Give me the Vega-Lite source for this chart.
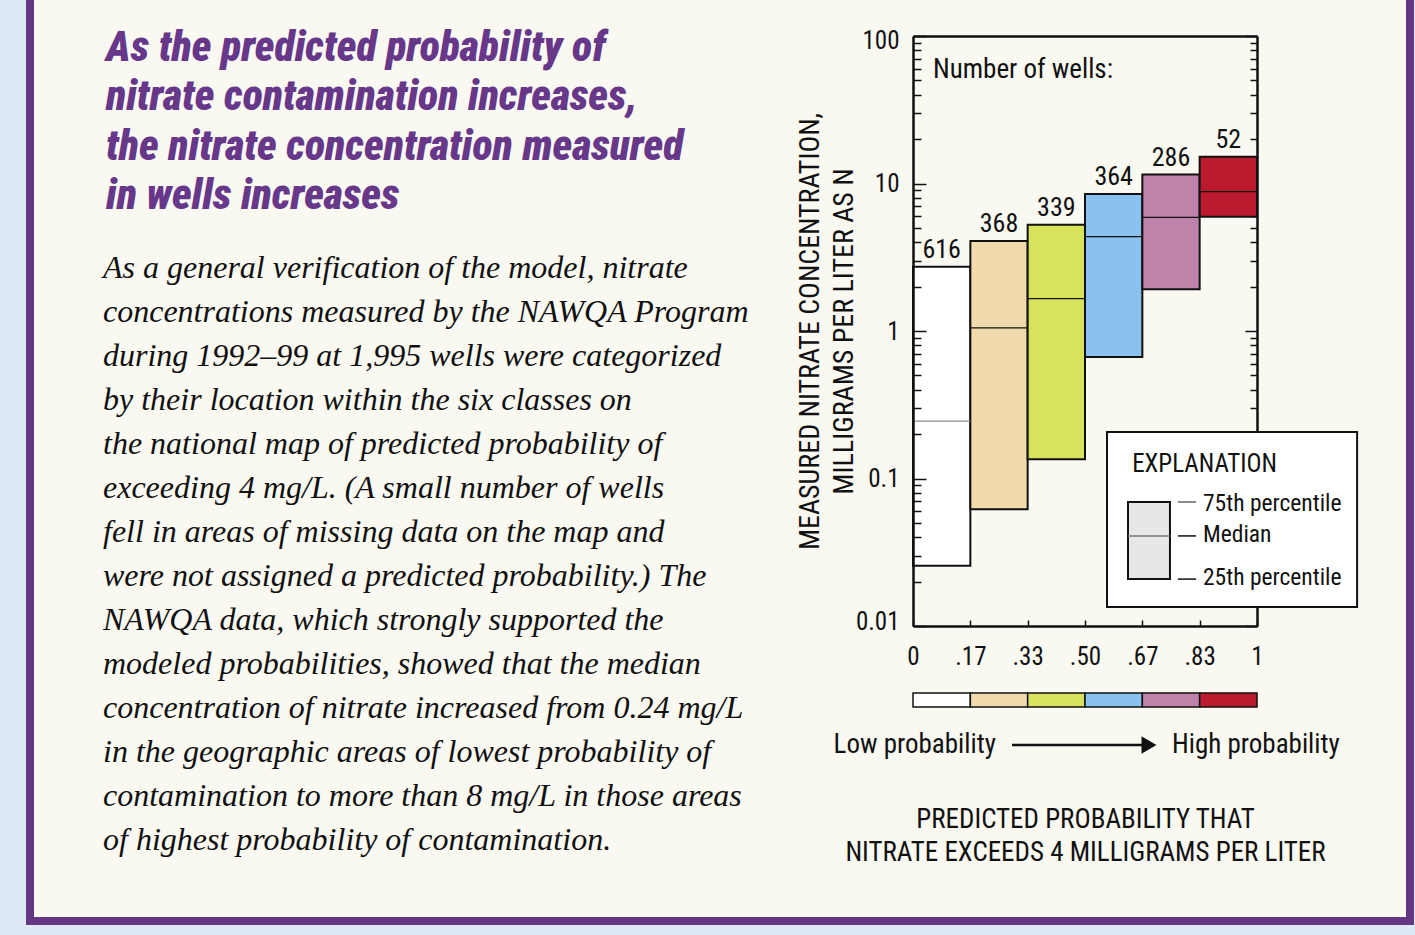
{
  "$schema": "https://vega.github.io/schema/vega-lite/v6.json",
  "autosize": {"type": "none"},
  "padding": {"left": 30, "top": -10, "right": 5, "bottom": 14},
  "width": 1380,
  "height": 931,
  "background": "#dfe8f7",
  "config": {
    "view": {"fill": "#f9f8f1", "stroke": "#673683", "strokeWidth": 8},
    "font": "Liberation Sans Narrow, Roboto Condensed, DejaVu Sans Condensed, sans-serif",
    "text": {"font": "Liberation Sans Narrow, Roboto Condensed, DejaVu Sans Condensed, sans-serif", "fontSize": 25, "color": "#111111"}
  },
  "datasets": {
    "classes": [
      {"cls": 1, "p0": 0, "p1": 0.1667, "pmid": 0.0833, "n": 616, "q25": 0.0256, "med": 0.245, "q75": 2.73},
      {"cls": 2, "p0": 0.1667, "p1": 0.3333, "pmid": 0.25, "n": 368, "q25": 0.0618, "med": 1.05, "q75": 4.08},
      {"cls": 3, "p0": 0.3333, "p1": 0.5, "pmid": 0.4167, "n": 339, "q25": 0.135, "med": 1.66, "q75": 5.26},
      {"cls": 4, "p0": 0.5, "p1": 0.6667, "pmid": 0.5833, "n": 364, "q25": 0.667, "med": 4.36, "q75": 8.49},
      {"cls": 5, "p0": 0.6667, "p1": 0.8333, "pmid": 0.75, "n": 286, "q25": 1.92, "med": 5.9, "q75": 11.5},
      {"cls": 6, "p0": 0.8333, "p1": 1, "pmid": 0.9167, "n": 52, "q25": 5.96, "med": 8.8, "q75": 15.2}
    ],
    "one": [{}],
    "heading": [
      {"line": 1, "text": "As the predicted probability of"},
      {"line": 2, "text": "nitrate contamination increases,"},
      {"line": 3, "text": "the nitrate concentration measured"},
      {"line": 4, "text": "in wells increases"}
    ],
    "body": [
      {"line": 1, "text": "As a general verification of the model, nitrate"},
      {"line": 2, "text": "concentrations measured by the NAWQA Program"},
      {"line": 3, "text": "during 1992–99 at 1,995 wells were categorized"},
      {"line": 4, "text": "by their location within the six classes on"},
      {"line": 5, "text": "the national map of predicted probability of"},
      {"line": 6, "text": "exceeding 4 mg/L. (A small number of wells"},
      {"line": 7, "text": "fell in areas of missing data on the map and"},
      {"line": 8, "text": "were not assigned a predicted probability.) The"},
      {"line": 9, "text": "NAWQA data, which strongly supported the"},
      {"line": 10, "text": "modeled probabilities, showed that the median"},
      {"line": 11, "text": "concentration of nitrate increased from 0.24 mg/L"},
      {"line": 12, "text": "in the geographic areas of lowest probability of"},
      {"line": 13, "text": "contamination to more than 8 mg/L in those areas"},
      {"line": 14, "text": "of highest probability of contamination."}
    ]
  },
  "resolve": {"scale": {"x": "independent", "y": "independent"}, "axis": {"x": "independent", "y": "independent"}},
  "layer": [
    {
      "data": {"name": "classes"},
      "mark": {"type": "rect", "stroke": "#111111", "strokeWidth": 2},
      "encoding": {
        "x": {"field": "p0", "type": "quantitative",
          "scale": {"domain": [0, 1], "range": [883, 1227], "nice": false, "zero": false},
          "axis": {"orient": "bottom", "offset": -295, "values": [0, 0.1667, 0.3333, 0.5, 0.6667, 0.8333, 1],
            "labelExpr": "datum.value == 0 ? '0' : datum.value == 1 ? '1' : replace(format(datum.value, '.2f'), '0.', '.')",
            "tickSize": -6, "tickWidth": 1.5, "tickColor": "#111111", "domainColor": "#111111", "domainWidth": 2.5,
            "labelFontSize": 25, "labelColor": "#111111", "labelPadding": 24, "labelFlush": false, "labelOverlap": false,
            "grid": false, "zindex": 1,
            "title": ["PREDICTED PROBABILITY THAT", "NITRATE EXCEEDS 4 MILLIGRAMS PER LITER"],
            "titleFontSize": 27, "titleFontWeight": "normal", "titleColor": "#111111", "titlePadding": 137, "titleLineHeight": 33}},
        "x2": {"field": "p1"},
        "y": {"field": "q25", "type": "quantitative",
          "scale": {"type": "log", "domain": [0.01, 100], "range": [636, 46], "nice": false},
          "axis": {"orient": "left", "offset": -883,
            "values": [0.01, 0.02, 0.03, 0.04, 0.05, 0.06, 0.07, 0.08, 0.09, 0.1, 0.2, 0.3, 0.4, 0.5, 0.6, 0.7, 0.8, 0.9, 1, 2, 3, 4, 5, 6, 7, 8, 9, 10, 20, 30, 40, 50, 60, 70, 80, 90, 100],
            "labelExpr": "abs(log(datum.value)/LN10 - round(log(datum.value)/LN10)) < 0.001 ? format(datum.value, '~g') : ''",
            "tickSize": {"condition": {"test": "abs(log(datum.value)/LN10 - round(log(datum.value)/LN10)) < 0.001", "value": -13}, "value": -8},
            "tickWidth": 1.5, "tickColor": "#111111", "domainColor": "#111111", "domainWidth": 2.5,
            "labelFontSize": 25, "labelColor": "#111111", "labelPadding": 27, "labelFlush": true, "labelFlushOffset": 8, "labelOverlap": false,
            "grid": false, "zindex": 1,
            "title": ["MEASURED NITRATE CONCENTRATION,", "MILLIGRAMS PER LITER AS N"],
            "titleFontSize": 28, "titleFontWeight": "normal", "titleColor": "#111111", "titlePadding": -3, "titleLineHeight": 34}},
        "y2": {"field": "q75"},
        "color": {"field": "cls", "type": "nominal", "legend": null,
          "scale": {"domain": [1, 2, 3, 4, 5, 6], "range": ["#ffffff", "#f1dbad", "#d7e35a", "#8bc1ee", "#bf82ab", "#bc1b2f"]}}
      }
    },
    {
      "data": {"name": "classes"},
      "mark": {"type": "rule", "strokeWidth": 1.3},
      "encoding": {
        "x": {"field": "p0", "type": "quantitative",
          "scale": {"domain": [0, 1], "range": [883, 1227], "nice": false, "zero": false},
          "axis": {"orient": "top", "offset": -46, "ticks": false, "labels": false, "domainColor": "#111111", "domainWidth": 2.5, "grid": false, "title": null, "zindex": 0}},
        "x2": {"field": "p1"},
        "y": {"field": "med", "type": "quantitative",
          "scale": {"type": "log", "domain": [0.01, 100], "range": [636, 46], "nice": false},
          "axis": {"orient": "right", "offset": -153,
            "values": [0.01, 0.02, 0.03, 0.04, 0.05, 0.06, 0.07, 0.08, 0.09, 0.1, 0.2, 0.3, 0.4, 0.5, 0.6, 0.7, 0.8, 0.9, 1, 2, 3, 4, 5, 6, 7, 8, 9, 10, 20, 30, 40, 50, 60, 70, 80, 90, 100],
            "labels": false,
            "tickSize": {"condition": {"test": "abs(log(datum.value)/LN10 - round(log(datum.value)/LN10)) < 0.001", "value": -12}, "value": -7},
            "tickWidth": 1.5, "tickColor": "#111111", "domainColor": "#111111", "domainWidth": 2.5,
            "grid": false, "title": null, "zindex": 0}},
        "stroke": {"condition": {"test": "datum.cls == 1", "value": "#8a8a8a"}, "value": "#111111"}
      }
    },
    {
      "data": {"name": "classes"},
      "mark": {"type": "text", "baseline": "bottom", "dy": -4, "fontSize": 26},
      "encoding": {
        "x": {"field": "pmid", "type": "quantitative",
          "scale": {"domain": [0, 1], "range": [883, 1227], "nice": false, "zero": false}, "axis": null},
        "y": {"field": "q75", "type": "quantitative",
          "scale": {"type": "log", "domain": [0.01, 100], "range": [636, 46], "nice": false}, "axis": null},
        "text": {"field": "n", "type": "nominal"}
      }
    },
    {
      "data": {"name": "one"},
      "mark": {"type": "text", "text": "Number of wells:", "align": "left", "baseline": "middle", "fontSize": 27},
      "encoding": {
        "x": {"datum": 0.058, "type": "quantitative", "scale": {"domain": [0, 1], "range": [883, 1227], "nice": false, "zero": false}, "axis": null},
        "y": {"datum": 58.8, "type": "quantitative", "scale": {"type": "log", "domain": [0.01, 100], "range": [636, 46], "nice": false}, "axis": null}
      }
    },
    {
      "data": {"name": "one"},
      "mark": {"type": "rect", "fill": "#ffffff", "stroke": "#111111", "strokeWidth": 2},
      "encoding": {
        "x": {"datum": 0.564, "type": "quantitative", "scale": {"domain": [0, 1], "range": [883, 1227], "nice": false, "zero": false}, "axis": null},
        "x2": {"datum": 1.291},
        "y": {"datum": 0.2065, "type": "quantitative", "scale": {"type": "log", "domain": [0.01, 100], "range": [636, 46], "nice": false}, "axis": null},
        "y2": {"datum": 0.01345}
      }
    },
    {
      "data": {"name": "one"},
      "mark": {"type": "text", "text": "EXPLANATION", "align": "left", "baseline": "middle", "fontSize": 25},
      "encoding": {
        "x": {"datum": 0.637, "type": "quantitative", "scale": {"domain": [0, 1], "range": [883, 1227], "nice": false, "zero": false}, "axis": null},
        "y": {"datum": 0.1253, "type": "quantitative", "scale": {"type": "log", "domain": [0.01, 100], "range": [636, 46], "nice": false}, "axis": null}
      }
    },
    {
      "data": {"name": "one"},
      "mark": {"type": "rect", "fill": "#e7e7ea", "stroke": "#111111", "strokeWidth": 2},
      "encoding": {
        "x": {"datum": 0.625, "type": "quantitative", "scale": {"domain": [0, 1], "range": [883, 1227], "nice": false, "zero": false}, "axis": null},
        "x2": {"datum": 0.747},
        "y": {"datum": 0.0693, "type": "quantitative", "scale": {"type": "log", "domain": [0.01, 100], "range": [636, 46], "nice": false}, "axis": null},
        "y2": {"datum": 0.0208}
      }
    },
    {
      "data": {"name": "one"},
      "mark": {"type": "rule", "stroke": "#777777", "strokeWidth": 1.5},
      "encoding": {
        "x": {"datum": 0.625, "type": "quantitative", "scale": {"domain": [0, 1], "range": [883, 1227], "nice": false, "zero": false}, "axis": null},
        "x2": {"datum": 0.747},
        "y": {"datum": 0.0408, "type": "quantitative", "scale": {"type": "log", "domain": [0.01, 100], "range": [636, 46], "nice": false}, "axis": null}
      }
    },
    {
      "data": {"name": "one"},
      "mark": {"type": "rule", "stroke": "#666666", "strokeWidth": 1.5},
      "encoding": {
        "x": {"datum": 0.77, "type": "quantitative", "scale": {"domain": [0, 1], "range": [883, 1227], "nice": false, "zero": false}, "axis": null},
        "x2": {"datum": 0.823},
        "y": {"datum": 0.0693, "type": "quantitative", "scale": {"type": "log", "domain": [0.01, 100], "range": [636, 46], "nice": false}, "axis": null}
      }
    },
    {
      "data": {"name": "one"},
      "mark": {"type": "rule", "stroke": "#111111", "strokeWidth": 1.5},
      "encoding": {
        "x": {"datum": 0.77, "type": "quantitative", "scale": {"domain": [0, 1], "range": [883, 1227], "nice": false, "zero": false}, "axis": null},
        "x2": {"datum": 0.823},
        "y": {"datum": 0.0408, "type": "quantitative", "scale": {"type": "log", "domain": [0.01, 100], "range": [636, 46], "nice": false}, "axis": null}
      }
    },
    {
      "data": {"name": "one"},
      "mark": {"type": "rule", "stroke": "#111111", "strokeWidth": 1.5},
      "encoding": {
        "x": {"datum": 0.77, "type": "quantitative", "scale": {"domain": [0, 1], "range": [883, 1227], "nice": false, "zero": false}, "axis": null},
        "x2": {"datum": 0.823},
        "y": {"datum": 0.0208, "type": "quantitative", "scale": {"type": "log", "domain": [0.01, 100], "range": [636, 46], "nice": false}, "axis": null}
      }
    },
    {
      "data": {"name": "one"},
      "mark": {"type": "text", "text": "75th percentile", "align": "left", "baseline": "middle", "fontSize": 23.5},
      "encoding": {
        "x": {"datum": 0.843, "type": "quantitative", "scale": {"domain": [0, 1], "range": [883, 1227], "nice": false, "zero": false}, "axis": null},
        "y": {"datum": 0.0671, "type": "quantitative", "scale": {"type": "log", "domain": [0.01, 100], "range": [636, 46], "nice": false}, "axis": null}
      }
    },
    {
      "data": {"name": "one"},
      "mark": {"type": "text", "text": "Median", "align": "left", "baseline": "middle", "fontSize": 23.5},
      "encoding": {
        "x": {"datum": 0.843, "type": "quantitative", "scale": {"domain": [0, 1], "range": [883, 1227], "nice": false, "zero": false}, "axis": null},
        "y": {"datum": 0.0414, "type": "quantitative", "scale": {"type": "log", "domain": [0.01, 100], "range": [636, 46], "nice": false}, "axis": null}
      }
    },
    {
      "data": {"name": "one"},
      "mark": {"type": "text", "text": "25th percentile", "align": "left", "baseline": "middle", "fontSize": 23.5},
      "encoding": {
        "x": {"datum": 0.843, "type": "quantitative", "scale": {"domain": [0, 1], "range": [883, 1227], "nice": false, "zero": false}, "axis": null},
        "y": {"datum": 0.0211, "type": "quantitative", "scale": {"type": "log", "domain": [0.01, 100], "range": [636, 46], "nice": false}, "axis": null}
      }
    },
    {
      "data": {"name": "classes"},
      "mark": {"type": "rect", "stroke": "#111111", "strokeWidth": 1.5},
      "encoding": {
        "x": {"field": "p0", "type": "quantitative", "scale": {"domain": [0, 1], "range": [883, 1227], "nice": false, "zero": false}, "axis": null},
        "x2": {"field": "p1"},
        "y": {"datum": 0.00351, "type": "quantitative", "scale": {"type": "log", "domain": [0.01, 100], "range": [636, 46], "nice": false}, "axis": null},
        "y2": {"datum": 0.00282},
        "color": {"field": "cls", "type": "nominal", "legend": null,
          "scale": {"domain": [1, 2, 3, 4, 5, 6], "range": ["#ffffff", "#f1dbad", "#d7e35a", "#8bc1ee", "#bf82ab", "#bc1b2f"]}}
      }
    },
    {
      "data": {"name": "one"},
      "mark": {"type": "rule", "stroke": "#111111", "strokeWidth": 2.5},
      "encoding": {
        "x": {"datum": 0.288, "type": "quantitative", "scale": {"domain": [0, 1], "range": [883, 1227], "nice": false, "zero": false}, "axis": null},
        "x2": {"datum": 0.68},
        "y": {"datum": 0.00156, "type": "quantitative", "scale": {"type": "log", "domain": [0.01, 100], "range": [636, 46], "nice": false}, "axis": null}
      }
    },
    {
      "data": {"name": "one"},
      "mark": {"type": "point", "shape": "triangle-right", "filled": true, "color": "#111111", "opacity": 1, "size": 300},
      "encoding": {
        "x": {"datum": 0.686, "type": "quantitative", "scale": {"domain": [0, 1], "range": [883, 1227], "nice": false, "zero": false}, "axis": null},
        "y": {"datum": 0.00156, "type": "quantitative", "scale": {"type": "log", "domain": [0.01, 100], "range": [636, 46], "nice": false}, "axis": null}
      }
    },
    {
      "data": {"name": "one"},
      "mark": {"type": "text", "text": "Low probability", "align": "right", "baseline": "middle", "fontSize": 27},
      "encoding": {
        "x": {"datum": 0.241, "type": "quantitative", "scale": {"domain": [0, 1], "range": [883, 1227], "nice": false, "zero": false}, "axis": null},
        "y": {"datum": 0.00156, "type": "quantitative", "scale": {"type": "log", "domain": [0.01, 100], "range": [636, 46], "nice": false}, "axis": null}
      }
    },
    {
      "data": {"name": "one"},
      "mark": {"type": "text", "text": "High probability", "align": "left", "baseline": "middle", "fontSize": 27},
      "encoding": {
        "x": {"datum": 0.753, "type": "quantitative", "scale": {"domain": [0, 1], "range": [883, 1227], "nice": false, "zero": false}, "axis": null},
        "y": {"datum": 0.00156, "type": "quantitative", "scale": {"type": "log", "domain": [0.01, 100], "range": [636, 46], "nice": false}, "axis": null}
      }
    },
    {
      "data": {"name": "heading"},
      "mark": {"type": "text", "align": "left", "baseline": "alphabetic", "font": "Liberation Sans Narrow, Roboto Condensed, DejaVu Sans Condensed, sans-serif", "fontSize": 42, "fontWeight": 900, "fontStyle": "italic", "color": "#67378a"},
      "encoding": {
        "x": {"datum": 0, "type": "quantitative", "scale": {"domain": [0, 1], "range": [76, 700], "nice": false, "zero": false}, "axis": null},
        "y": {"field": "line", "type": "quantitative", "scale": {"domain": [1, 4], "range": [71, 219], "nice": false, "zero": false}, "axis": null},
        "text": {"field": "text", "type": "nominal"}
      }
    },
    {
      "data": {"name": "body"},
      "mark": {"type": "text", "align": "left", "baseline": "alphabetic", "font": "Liberation Serif, DejaVu Serif, serif", "fontSize": 32, "fontStyle": "italic", "color": "#111111"},
      "encoding": {
        "x": {"datum": 0, "type": "quantitative", "scale": {"domain": [0, 1], "range": [73, 700], "nice": false, "zero": false}, "axis": null},
        "y": {"field": "line", "type": "quantitative", "scale": {"domain": [1, 14], "range": [288, 860], "nice": false, "zero": false}, "axis": null},
        "text": {"field": "text", "type": "nominal"}
      }
    }
  ]
}
